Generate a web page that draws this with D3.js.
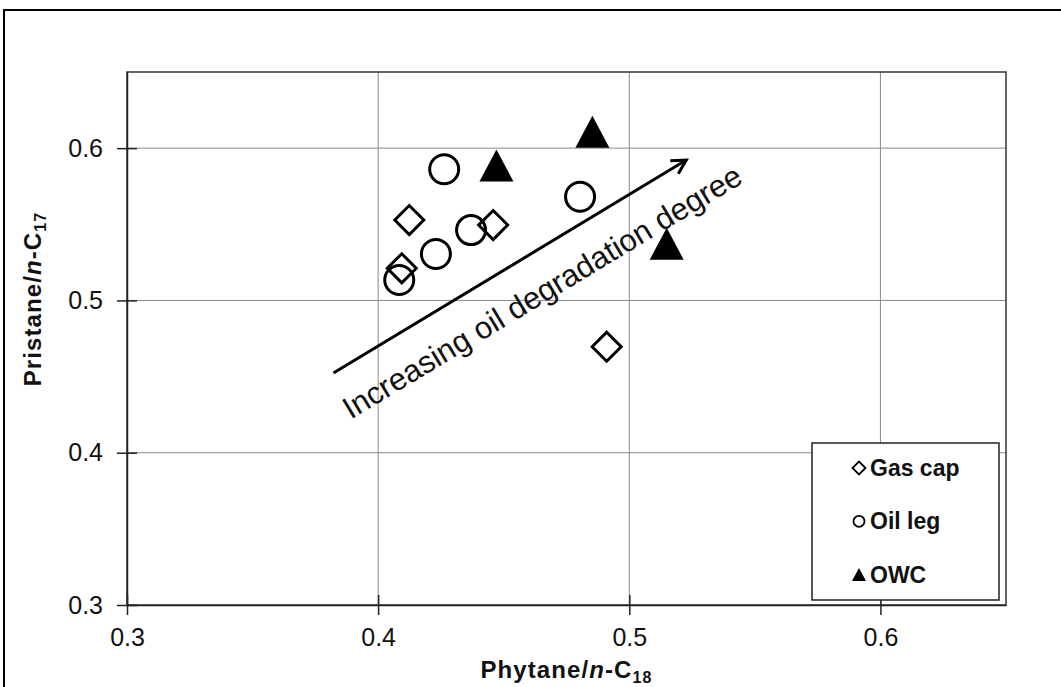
<!DOCTYPE html>
<html>
<head>
<meta charset="utf-8">
<script src="https://cdn.jsdelivr.net/npm/d3@7"></script>
<style>
    body { margin: 0; background: #fff; }
    #chart-area { width: 1061px; height: 687px; }
    text { font-family: "Liberation Sans", Arial, sans-serif; }
</style>
</head>
<body>
<div id="chart-area"></div>
<script>
// data
let gasCapX = [0.4124, 0.4458, 0.4094, 0.4910];
let gasCapY = [0.5528, 0.5495, 0.5211, 0.4696];
let oilLegX = [0.4263, 0.4804, 0.4370, 0.4230, 0.4084];
let oilLegY = [0.5861, 0.5681, 0.5462, 0.5305, 0.5134];
let owcX = [0.4471, 0.4853, 0.5149];
let owcY = [0.5886, 0.6108, 0.5372];
let xTicks = [0.3, 0.4, 0.5, 0.6];
let yTicks = [0.3, 0.4, 0.5, 0.6];
let seriesNames = ["Gas cap", "Oil leg", "OWC"];
let arrowFrom = [0.3822, 0.4523];
let arrowTo = [0.5227, 0.5922];
let arrowLabel = "Increasing oil degradation degree";


class scatterVis {
    constructor(parentElement) {
        this.parentElement = parentElement;
        this.initVis();
    }

    initVis() {
        let vis = this;
        vis.margin = {top: 72, right: 55, bottom: 82, left: 127};
        vis.width = 1061 - vis.margin.left - vis.margin.right;
        vis.height = 687 - vis.margin.top - vis.margin.bottom;

        vis.root = d3.select("#" + vis.parentElement).append("svg")
            .attr("width", 1061)
            .attr("height", 687);

        // outer frame of the figure
        vis.root.append("rect")
            .attr("x", 4).attr("y", 10)
            .attr("width", 1100).attr("height", 720)
            .attr("fill", "none")
            .attr("stroke", "#000")
            .attr("stroke-width", 2);

        vis.svg = vis.root.append("g")
            .attr("transform", `translate(${vis.margin.left}, ${vis.margin.top})`);

        // scales
        vis.x = d3.scaleLinear().domain([0.3, 0.65]).range([0, vis.width]);
        vis.y = d3.scaleLinear().domain([0.3, 0.65]).range([vis.height, 0]);

        vis.wrangleData();
    }

    wrangleData() {
        let vis = this;
        vis.gasCap = gasCapX.map((d, i) => ({x: d, y: gasCapY[i]}));
        vis.oilLeg = oilLegX.map((d, i) => ({x: d, y: oilLegY[i]}));
        vis.owc = owcX.map((d, i) => ({x: d, y: owcY[i]}));
        vis.updateVis();
    }

    diamond(r) {
        return `M0,${-r}L${r},0L0,${r}L${-r},0Z`;
    }

    triangle(w, h) {
        return `M0,${-h / 2}L${w / 2},${h / 2}L${-w / 2},${h / 2}Z`;
    }

    updateVis() {
        let vis = this;

        // gridlines
        vis.svg.append("g")
            .selectAll("line.vgrid")
            .data(xTicks.filter(d => d > 0.3))
            .enter().append("line")
            .attr("x1", d => vis.x(d)).attr("x2", d => vis.x(d))
            .attr("y1", 0).attr("y2", vis.height)
            .attr("stroke", "#8a8a8a").attr("stroke-width", 1);
        vis.svg.append("g")
            .selectAll("line.hgrid")
            .data(yTicks.filter(d => d > 0.3))
            .enter().append("line")
            .attr("x1", 0).attr("x2", vis.width)
            .attr("y1", d => vis.y(d)).attr("y2", d => vis.y(d))
            .attr("stroke", "#8a8a8a").attr("stroke-width", 1);

        // plot border
        vis.svg.append("rect")
            .attr("width", vis.width).attr("height", vis.height)
            .attr("fill", "none")
            .attr("stroke", "#333").attr("stroke-width", 1.5);

        // axes (ticks cross the axis line)
        vis.xAxis = d3.axisBottom(vis.x).tickValues(xTicks).tickSize(10).tickSizeOuter(0)
            .tickFormat(d3.format(".1f")).tickPadding(13);
        vis.yAxis = d3.axisLeft(vis.y).tickValues(yTicks).tickSize(10).tickSizeOuter(0)
            .tickFormat(d3.format(".1f")).tickPadding(14);

        let xg = vis.svg.append("g")
            .attr("transform", `translate(0, ${vis.height})`)
            .call(vis.xAxis);
        xg.selectAll(".tick line").attr("y1", -10);
        let yg = vis.svg.append("g").call(vis.yAxis);
        yg.selectAll(".tick line").attr("x1", 10);
        [xg, yg].forEach(g => {
            g.select(".domain").attr("stroke", "#222").attr("stroke-width", 1.5);
            g.selectAll(".tick line").attr("stroke", "#222").attr("stroke-width", 1.5);
            g.selectAll(".tick text")
                .attr("font-size", 25)
                .attr("fill", "#111")
                .style("font-family", "'Liberation Sans', Arial, sans-serif");
        });

        // axis titles
        let xt = vis.svg.append("text")
            .attr("x", vis.width / 2)
            .attr("y", vis.height + 73)
            .attr("text-anchor", "middle")
            .attr("font-size", 24)
            .attr("font-weight", "bold")
            .attr("letter-spacing", 1.1)
            .attr("fill", "#111");
        xt.append("tspan").text("Phytane/");
        xt.append("tspan").attr("font-style", "italic").text("n");
        xt.append("tspan").text("-C");
        xt.append("tspan").attr("font-size", 16).attr("dy", 5).text("18");

        let yt = vis.svg.append("text")
            .attr("transform", `translate(${-86}, ${227}) rotate(-90)`)
            .attr("text-anchor", "middle")
            .attr("font-size", 24)
            .attr("font-weight", "bold")
            .attr("letter-spacing", 1.1)
            .attr("fill", "#111");
        yt.append("tspan").text("Pristane/");
        yt.append("tspan").attr("font-style", "italic").text("n");
        yt.append("tspan").text("-C");
        yt.append("tspan").attr("font-size", 16).attr("dy", 5).text("17");

        // markers
        vis.svg.append("g").selectAll("path")
            .data(vis.gasCap).enter().append("path")
            .attr("d", vis.diamond(14.5))
            .attr("transform", d => `translate(${vis.x(d.x)}, ${vis.y(d.y)})`)
            .attr("fill", "none").attr("stroke", "#000").attr("stroke-width", 3);

        vis.svg.append("g").selectAll("circle")
            .data(vis.oilLeg).enter().append("circle")
            .attr("cx", d => vis.x(d.x)).attr("cy", d => vis.y(d.y))
            .attr("r", 14.5)
            .attr("fill", "none").attr("stroke", "#000").attr("stroke-width", 3);

        vis.svg.append("g").selectAll("path")
            .data(vis.owc).enter().append("path")
            .attr("d", vis.triangle(34, 32))
            .attr("transform", d => `translate(${vis.x(d.x)}, ${vis.y(d.y)})`)
            .attr("fill", "#000");

        // arrow with label
        let ax1 = vis.x(arrowFrom[0]), ay1 = vis.y(arrowFrom[1]);
        let ax2 = vis.x(arrowTo[0]), ay2 = vis.y(arrowTo[1]);
        let ang = Math.atan2(ay2 - ay1, ax2 - ax1);
        vis.svg.append("line")
            .attr("x1", ax1).attr("y1", ay1).attr("x2", ax2).attr("y2", ay2)
            .attr("stroke", "#000").attr("stroke-width", 3);
        let head = 16, spread = 0.5;
        vis.svg.append("path")
            .attr("d", `M${ax2 - head * Math.cos(ang - spread)},${ay2 - head * Math.sin(ang - spread)}` +
                `L${ax2},${ay2}` +
                `L${ax2 - head * Math.cos(ang + spread)},${ay2 - head * Math.sin(ang + spread)}`)
            .attr("fill", "none").attr("stroke", "#000").attr("stroke-width", 3);

        vis.svg.append("text")
            .attr("transform", `translate(${vis.x(0.4675)}, ${vis.y(0.4997)}) rotate(${ang * 180 / Math.PI})`)
            .attr("text-anchor", "middle")
            .attr("font-size", 31)
            .attr("fill", "#111")
            .text(arrowLabel);

        // legend
        let lg = vis.svg.append("g")
            .attr("transform", `translate(${812 - vis.margin.left}, ${443 - vis.margin.top})`);
        lg.append("rect")
            .attr("width", 187).attr("height", 157)
            .attr("fill", "#fff")
            .attr("stroke", "#222").attr("stroke-width", 1.5);
        let rows = lg.selectAll("g.item")
            .data(seriesNames).enter().append("g")
            .attr("transform", (d, i) => `translate(47, ${25 + i * 53.3})`);
        rows.each(function (d, i) {
            let g = d3.select(this);
            if (i === 0) {
                g.append("path").attr("d", vis.diamond(6.5))
                    .attr("fill", "none").attr("stroke", "#000").attr("stroke-width", 1.8);
            } else if (i === 1) {
                g.append("circle").attr("r", 5.5)
                    .attr("fill", "none").attr("stroke", "#000").attr("stroke-width", 1.8);
            } else {
                g.append("path").attr("d", vis.triangle(14, 13)).attr("fill", "#000");
            }
        });
        rows.append("text")
            .attr("x", 11)
            .attr("y", 8)
            .attr("font-size", 23)
            .attr("font-weight", "bold")
            .attr("fill", "#111")
            .text(d => d);
    }
}

new scatterVis("chart-area");
</script>
</body>
</html>
